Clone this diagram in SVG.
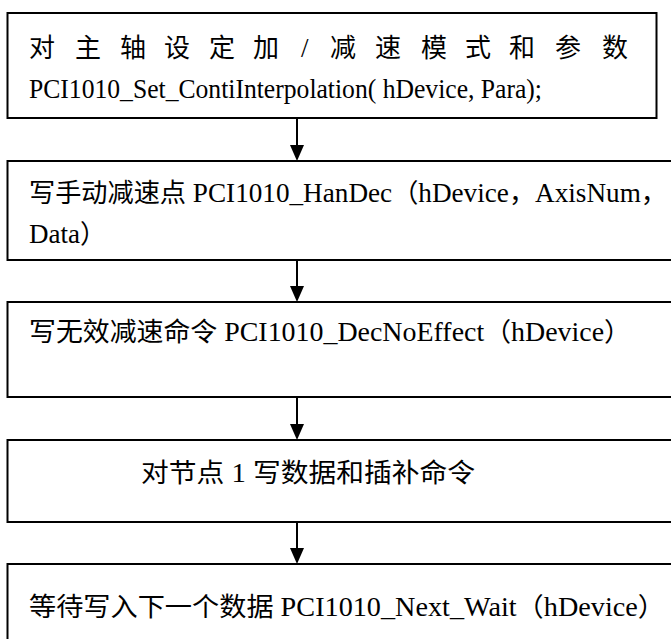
<svg xmlns="http://www.w3.org/2000/svg" width="671" height="639" viewBox="0 0 671 639">
<defs>
<style>
.box{fill:#fff;stroke:#000;stroke-width:2}
.t{font-family:"Liberation Serif","Noto Sans CJK SC",serif;font-size:26px;fill:#000}
.l{font-size:27px}
.c{stroke:#000;stroke-width:2;fill:none}
.h{fill:#000}
</style>
</defs>
<rect width="671" height="639" fill="#fff"/>
<g id="connectors">
<line class="c" x1="297" y1="118" x2="297" y2="145"/>
<path class="h" d="M290,145 L304,145 L297,161 Z"/>
<line class="c" x1="297" y1="260" x2="297" y2="286"/>
<path class="h" d="M290,286 L304,286 L297,302 Z"/>
<line class="c" x1="297" y1="397" x2="297" y2="424"/>
<path class="h" d="M290,424 L304,424 L297,440 Z"/>
<line class="c" x1="297" y1="522" x2="297" y2="548"/>
<path class="h" d="M290,548 L304,548 L297,564 Z"/>
</g>
<g id="n1">
<rect class="box" x="7.5" y="13" width="649" height="105"/>
<text class="t" y="57"><tspan x="29">对</tspan><tspan x="75">主</tspan><tspan x="120">轴</tspan><tspan x="164">设</tspan><tspan x="209">定</tspan><tspan x="253">加</tspan><tspan x="301" class="l">/</tspan><tspan x="330">减</tspan><tspan x="375">速</tspan><tspan x="421">模</tspan><tspan x="465">式</tspan><tspan x="509">和</tspan><tspan x="555">参</tspan><tspan x="602">数</tspan></text>
<text class="t l" x="29" y="98" textLength="513" lengthAdjust="spacingAndGlyphs">PCI1010_Set_ContiInterpolation(  hDevice, Para);</text>
</g>
<g id="n2">
<rect class="box" x="7.5" y="161" width="680" height="99"/>
<text class="t" x="29" y="202" textLength="638" lengthAdjust="spacingAndGlyphs">写手动减速点<tspan class="l"> PCI1010_HanDec</tspan>（<tspan class="l">hDevice</tspan>，<tspan class="l">AxisNum</tspan>，</text>
<text class="t" x="29" y="243"><tspan class="l">Data</tspan>）</text>
</g>
<g id="n3">
<rect class="box" x="7.5" y="302" width="680" height="95"/>
<text class="t" x="29" y="341" textLength="602" lengthAdjust="spacingAndGlyphs">写无效减速命令<tspan class="l"> PCI1010_DecNoEffect</tspan>（<tspan class="l">hDevice</tspan>）</text>
</g>
<g id="n4">
<rect class="box" x="7.5" y="440" width="680" height="82"/>
<text class="t" x="141" y="482" textLength="334" lengthAdjust="spacingAndGlyphs">对节点<tspan class="l"> 1 </tspan>写数据和插补命令</text>
</g>
<g id="n5">
<rect class="box" x="7.5" y="564" width="680" height="90"/>
<text class="t" x="29" y="616" textLength="636" lengthAdjust="spacingAndGlyphs">等待写入下一个数据<tspan class="l"> PCI1010_Next_Wait</tspan>（<tspan class="l">hDevice</tspan>）</text>
</g>
</svg>
